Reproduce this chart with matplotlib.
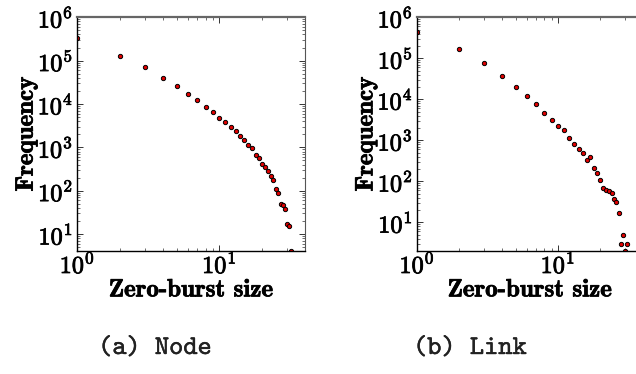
import numpy as np
import matplotlib
matplotlib.use("Agg")
import matplotlib.pyplot as plt
import matplotlib.patheffects as pe
from matplotlib.ticker import LogLocator, FuncFormatter, NullFormatter

# zero-burst size vs how often it occurs
node_size = list(range(1, 33))
node_freq = [330000, 131000, 69500, 40300, 25400, 17300, 12100, 8700, 6600, 4800,
             3800, 3000, 2350, 1840, 1490, 1120, 950, 682, 583, 409,
             349, 283, 217, 179, 107, 91, 49, 46, 37, 17.4,
             15.3, 4]

link_size = list(range(1, 32))
link_freq = [446000, 166000, 76000, 37300, 20100, 11700, 7500, 4500, 3200, 2220,
             1740, 1110, 826, 625, 499, 324, 399, 207, 160, 108,
             70, 60, 59, 51, 37, 31.5, 17, 3, 5, 2,
             3]

captions = ["(a) Node", "(b) Link"]
xlabel = "Zero-burst size"
ylabel = "Frequency"

plt.rcParams["mathtext.fontset"] = "cm"
heavy = [pe.withStroke(linewidth=0.55, foreground="black")]
light = [pe.withStroke(linewidth=0.3, foreground="#222222")]


def pow_label(v, pos):
    return r"$\mathbf{10^{%d}}$" % int(round(np.log10(v)))


def style_axis(ax, ymin):
    ax.set_xscale("log")
    ax.set_yscale("log")
    ax.set_xlim(1, 40)
    ax.set_ylim(ymin, 1e6)
    ax.xaxis.set_major_locator(LogLocator(base=10, numticks=20))
    ax.yaxis.set_major_locator(LogLocator(base=10, numticks=20))
    ax.xaxis.set_minor_locator(LogLocator(base=10, subs=np.arange(2, 10), numticks=20))
    ax.yaxis.set_minor_locator(LogLocator(base=10, subs=np.arange(2, 10), numticks=20))
    ax.xaxis.set_major_formatter(FuncFormatter(pow_label))
    ax.yaxis.set_major_formatter(FuncFormatter(pow_label))
    ax.xaxis.set_minor_formatter(NullFormatter())
    ax.yaxis.set_minor_formatter(NullFormatter())
    ax.tick_params(which="both", direction="in", top=True, right=True,
                   labelsize=17.5, color="#333333")
    ax.tick_params(axis="x", pad=1)
    ax.tick_params(axis="y", pad=3)
    ax.tick_params(which="major", length=4, width=0.7)
    ax.tick_params(which="minor", length=2, width=0.5)
    for side in ["left", "bottom"]:
        ax.spines[side].set_color("black")
        ax.spines[side].set_linewidth(1.0)
    ax.spines["top"].set_color("#666666")
    ax.spines["top"].set_linewidth(1.6)
    ax.spines["right"].set_color("#555555")
    ax.spines["right"].set_linewidth(0.8)
    ax.set_xlabel(xlabel, family="cmb10", fontsize=18, labelpad=1, path_effects=heavy)
    ax.set_ylabel(ylabel, family="cmb10", fontsize=18, labelpad=0, path_effects=heavy)


fig = plt.figure(figsize=(6.36, 3.74), dpi=100)
ax0 = fig.add_axes([0.1215, 0.329, 0.358, 0.625])
ax1 = fig.add_axes([0.6557, 0.329, 0.355, 0.625])

ax0.plot(node_size, node_freq, "o", ms=3.1, mfc="#e00000", mec="black", mew=0.7)
ax1.plot(link_size, link_freq, "o", ms=3.1, mfc="#e00000", mec="black", mew=0.7)

style_axis(ax0, 4.1)
style_axis(ax1, 2.0)

fig.text(155 / 636, 1 - 354 / 374, captions[0], family="cmtt10", fontsize=19.5,
         ha="center", va="baseline", color="#222222", path_effects=light)
fig.text(470 / 636, 1 - 354 / 374, captions[1], family="cmtt10", fontsize=19.5,
         ha="center", va="baseline", color="#222222", path_effects=light)

# tick labels only exist after a first draw
fig.canvas.draw()
for ax in [ax0, ax1]:
    for lbl in ax.get_xticklabels() + ax.get_yticklabels():
        lbl.set_path_effects(heavy)

fig.savefig("out.png", dpi=100)
